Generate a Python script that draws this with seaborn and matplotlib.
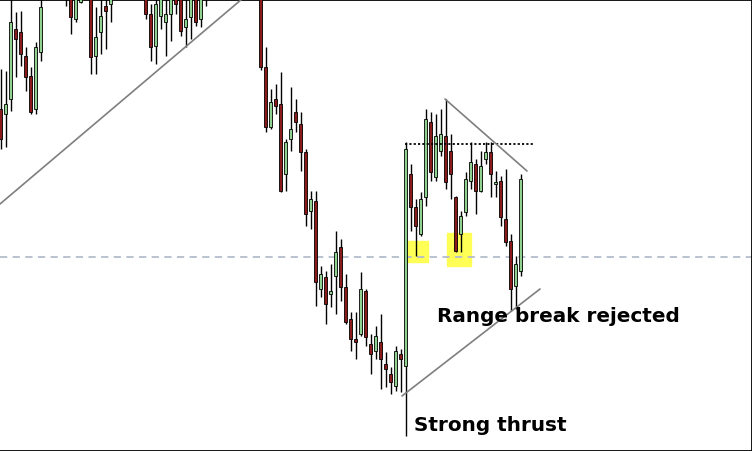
import numpy as np
import pandas as pd
import seaborn as sns
import matplotlib.pyplot as plt
from matplotlib.patches import Rectangle

# OHLC prices, one candle per bar (top of picture is cropped)
opens = [390, 385, 400, 470, 467, 443, 423, 390, 447, 510, 535, 520, 545, 520, 510, 480, 497, 515, 525, 443,
         467, 493, 495, 510, 530, 550, 535, 515, 540, 510, 485, 453, 483, 477, 485, 510, 505, 472, 482, 508,
         480, 520, 510, 530, 550, 540, 560, 545, 570, 555, 535, 550, 520, 432, 372, 400, 395, 325, 360, 387,
         375, 347, 288, 298, 210, 222, 205, 223, 252, 212, 180, 160, 165, 208, 155, 148, 157, 135, 125, 113,
         145, 133, 325, 292, 265, 302, 377, 322, 348, 363, 348, 302, 265, 287, 318, 335, 308, 340, 347, 315,
         318, 280, 258, 213, 228]
highs = [430, 428, 505, 487, 488, 452, 432, 457, 505, 545, 550, 555, 555, 530, 520, 515, 515, 540, 535, 492,
         503, 505, 520, 540, 560, 565, 545, 550, 555, 520, 495, 505, 515, 503, 520, 520, 515, 505, 515, 515,
         515, 530, 540, 560, 565, 570, 575, 580, 585, 565, 560, 555, 525, 452, 410, 415, 427, 360, 412, 400,
         387, 350, 308, 308, 233, 228, 235, 268, 260, 225, 187, 187, 227, 210, 165, 173, 185, 147, 132, 153,
         150, 357, 335, 300, 307, 390, 387, 385, 390, 400, 365, 303, 288, 327, 357, 340, 348, 357, 357, 328,
         323, 330, 265, 243, 325]
lows = [350, 352, 388, 422, 433, 408, 385, 385, 438, 503, 515, 512, 508, 493, 465, 477, 496, 505, 425, 425,
        445, 450, 477, 503, 520, 525, 505, 508, 504, 480, 438, 435, 470, 443, 458, 485, 463, 452, 460, 473,
        472, 493, 504, 520, 530, 535, 538, 540, 550, 530, 525, 510, 429, 367, 370, 385, 307, 308, 348, 367,
        328, 273, 270, 193, 202, 175, 192, 185, 198, 175, 148, 140, 163, 153, 125, 140, 110, 112, 105, 108,
        107, 63, 268, 243, 263, 293, 318, 318, 343, 310, 300, 247, 247, 283, 310, 285, 307, 335, 302, 302,
        273, 253, 188, 190, 223]
closes = [360, 395, 477, 460, 445, 422, 387, 452, 492, 535, 520, 545, 525, 505, 482, 505, 508, 530, 442, 462,
          483, 488, 510, 530, 550, 535, 515, 540, 520, 485, 452, 495, 508, 485, 510, 495, 468, 480, 508, 477,
          505, 505, 530, 550, 540, 560, 545, 570, 555, 535, 550, 520, 432, 372, 397, 393, 308, 357, 370, 377,
          347, 285, 300, 217, 225, 195, 208, 247, 212, 177, 160, 157, 210, 162, 145, 163, 140, 130, 117, 148,
          140, 350, 292, 273, 300, 380, 327, 363, 365, 317, 325, 248, 283, 320, 337, 308, 333, 347, 325, 317,
          282, 257, 210, 235, 320]

df = pd.DataFrame({"open": opens, "high": highs, "low": lows, "close": closes})
df["bar"] = np.arange(len(df))
df["up"] = df["close"] >= df["open"]

sns.set_theme(style="white")
plt.rcParams['font.family'] = ['DejaVu Sans']

fig = plt.figure(figsize=(7.52, 4.52), dpi=100)
ax = fig.add_axes([0, 0, 1, 1])

# wicks
ax.vlines(df["bar"], df["low"], df["high"], color="black", linewidth=1.0, zorder=3)
# bodies
body_lo = df[["open", "close"]].min(axis=1)
body_h = (df["close"] - df["open"]).abs().clip(lower=1.5)
colors = np.where(df["up"], "#8fd18f", "#8b1a1a")
ax.bar(df["bar"], body_h, bottom=body_lo, width=0.75, color=colors,
       edgecolor="black", linewidth=0.6, zorder=4)

# yellow zones where the range held
ax.add_patch(Rectangle((80.9, 237), 4.6, 21, color="#ffff55", zorder=1))
ax.add_patch(Rectangle((89.3, 233), 4.8, 33, color="#ffff55", zorder=1))

# horizontal levels
ax.axhline(242, color="#b4bccb", linestyle=(0, (4, 3)), linewidth=1.3, zorder=2)
ax.plot([80.9, 106.9], [355, 355], color="black", linestyle=(0, (1.2, 1.2)), linewidth=1.3, zorder=5)

# trend lines
trend = pd.DataFrame({
    "x": [-0.1, 48.3, 88.9, 105.3, 80.3, 107.9],
    "y": [295, 500, 400, 328, 103, 210],
    "line": ["a", "a", "b", "b", "c", "c"],
})
sns.lineplot(data=trend, x="x", y="y", units="line", estimator=None,
             color="#7f7f7f", linewidth=1.2, ax=ax, zorder=5)

ax.text(87.3, 183, "Range break rejected", fontsize=14.4, fontweight="bold",
        color="black", va="center", ha="left", zorder=6)
ax.text(82.6, 74, "Strong thrust", fontsize=14.4, fontweight="bold",
        color="black", va="center", ha="left", zorder=6)

ax.set_xlim(-0.1, 150.3)
ax.set_ylim(48, 500)
ax.set_xticks([])
ax.set_yticks([])
ax.set_xlabel("")
ax.set_ylabel("")
for side in ["top", "right", "bottom"]:
    ax.spines[side].set_color("black")
    ax.spines[side].set_linewidth(2)
ax.spines["left"].set_visible(False)

fig.savefig("out.png", dpi=100)
